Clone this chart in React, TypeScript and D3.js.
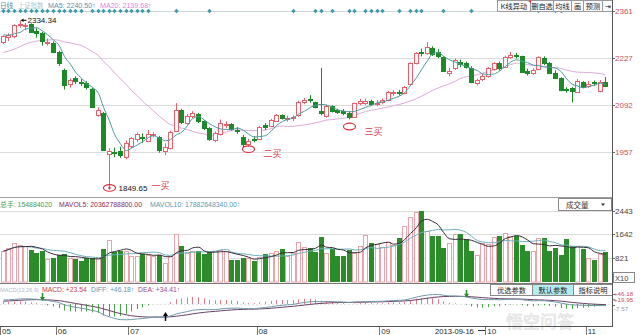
import React from 'react';
import * as d3 from 'd3';

// ---------- data ----------
const priorCloses = [2218, 2200, 2178, 2174, 2205, 2235, 2236, 2247, 2233, 2246, 2241, 2217, 2227, 2243, 2282, 2299, 2302, 2301, 2275];

const opens = [
  2273, 2286, 2290, 2322, 2318, 2323, 2303, 2299, 2271, 2270,
  2244, 2193, 2153, 2168, 2158, 2156, 2138, 2064, 2070, 1951,
  1958, 1960, 1944, 1975, 1994, 2000, 1988, 2008, 2000, 1960,
  1968, 2018, 2078, 2040, 2060, 2066, 2045, 2025, 1990, 2008,
  2034, 2036, 2020, 2001, 1979, 1995, 1995, 2035, 2032, 2047,
  2062, 2052, 2053, 2062, 2100, 2110, 2099, 2074, 2060, 2088,
  2076, 2074, 2069, 2058, 2097, 2098, 2103, 2095, 2099, 2106,
  2126, 2129, 2127, 2153, 2213, 2244, 2241, 2256, 2244, 2229,
  2184, 2199, 2216, 2211, 2199, 2155, 2166, 2174, 2196, 2212,
  2201, 2230, 2236, 2231, 2190, 2182, 2194, 2227, 2213, 2184,
  2168, 2137, 2139, 2130, 2157, 2145, 2157, 2133, 2157];
const highs = [
  2291, 2297, 2323, 2334.34, 2327, 2326, 2312, 2301, 2282, 2274,
  2247, 2196, 2168, 2174, 2166, 2160, 2141, 2085, 2072, 1968,
  1970, 1972, 1990, 2000, 2013, 2010, 2020, 2014, 2003, 1982,
  2018, 2097, 2081, 2066, 2074, 2069, 2048, 2028, 2016, 2050,
  2045, 2040, 2028, 2006, 1995, 2002, 2032, 2040, 2052, 2066,
  2065, 2061, 2062, 2104, 2112, 2120, 2101, 2198, 2093, 2091,
  2081, 2080, 2074, 2098, 2109, 2110, 2107, 2106, 2110, 2132,
  2134, 2135, 2146, 2214, 2243, 2253, 2272, 2260, 2252, 2231,
  2198, 2225, 2222, 2216, 2203, 2167, 2181, 2200, 2214, 2216,
  2233, 2244, 2241, 2233, 2196, 2197, 2231, 2231, 2215, 2191,
  2171, 2143, 2143, 2166, 2160, 2160, 2162, 2163, 2172];
const lows = [
  2266, 2275, 2283, 2313, 2306, 2298, 2285, 2262, 2262, 2240,
  2204, 2136, 2141, 2152, 2146, 2136, 2083, 2058, 1960, 1849.65,
  1942, 1940, 1936, 1968, 1986, 1983, 1985, 1999, 1955, 1948,
  1964, 2014, 2037, 2035, 2054, 2040, 2020, 1989, 1985, 2004,
  2025, 2018, 2009, 1970, 1972, 1985, 1991, 2020, 2028, 2043,
  2050, 2044, 2046, 2058, 2094, 2098, 2082, 2062, 2056, 2070,
  2066, 2062, 2051, 2055, 2091, 2092, 2090, 2088, 2095, 2102,
  2118, 2119, 2122, 2148, 2208, 2231, 2236, 2232, 2226, 2186,
  2174, 2192, 2200, 2196, 2154, 2148, 2160, 2170, 2190, 2190,
  2198, 2224, 2225, 2185, 2176, 2178, 2191, 2206, 2180, 2166,
  2131, 2127, 2099, 2126, 2140, 2141, 2146, 2128, 2143];
const closes = [
  2288, 2293, 2321, 2325, 2320, 2301, 2299, 2274, 2272, 2244,
  2212, 2150, 2163, 2161, 2156, 2143, 2087, 2077, 1964, 1959,
  1953, 1948, 1983, 1996, 2008, 1996, 2009, 2009, 1962, 1970,
  2013, 2078, 2043, 2060, 2068, 2045, 2025, 1993, 2012, 2041,
  2036, 2022, 2017, 1979, 1989, 1993, 2028, 2030, 2050, 2062,
  2053, 2055, 2056, 2100, 2106, 2107, 2086, 2068, 2090, 2074,
  2072, 2068, 2057, 2096, 2103, 2102, 2094, 2098, 2106, 2128,
  2128, 2127, 2142, 2213, 2240, 2242, 2257, 2238, 2233, 2188,
  2190, 2221, 2209, 2201, 2158, 2162, 2176, 2198, 2211, 2198,
  2229, 2235, 2233, 2187, 2182, 2192, 2228, 2213, 2184, 2170,
  2135, 2134, 2131, 2161, 2144, 2153, 2154, 2158, 2146];
const volumes = [
  1060, 1170, 1340, 1290, 1230, 1110, 990, 1050, 800, 840,
  930, 960, 840, 790, 720, 820, 820, 820, 1130, 1430,
  1030, 1050, 1050, 880, 910, 960, 930, 910, 930, 640,
  910, 1640, 1250, 1010, 1050, 1050, 960, 1030, 1050, 1110,
  1070, 770, 770, 830, 830, 730, 850, 970, 1000, 1080,
  1120, 880, 1000, 1370, 1210, 1175, 1040, 1560, 1000, 1140,
  900, 900, 1110, 1000, 1225, 1630, 1350, 1300, 1200, 1370,
  1290, 1500, 1930, 2245, 2400, 2443, 1760, 1580, 1580, 1180,
  1350, 1640, 1640, 1470, 1080, 940, 1350, 1300, 1550, 1580,
  1700, 1580, 1580, 1290, 1080, 1050, 1520, 1500, 1060, 1175,
  920, 1470, 1230, 1230, 1120, 830, 770, 970, 1040];

const diamondIndex = [0, 1, 2, 3, 4, 5, 6, 7, 8, 9, 10, 11, 12, 13, 14,
  16, 17, 18, 19, 20, 21, 22, 23, 24, 25, 26, 31, 37, 52, 56, 57, 59, 62, 63,
  65, 66, 67, 68, 71, 73, 74, 75, 79, 84, 96, 99, 100];

const monthLabels = ['05', '06', '07', '08', '09', '10', '11'];
const monthIndex = [0, 10, 23, 46, 68, 87, 105];
const priceTicks = [2361, 2227, 2092, 1957];
const volumeTicks = [2443, 1642, 821];
const macdTickValues = [46.18, 19.95, -7.57];
const macdTickLabels = ['+46.18', '+19.95', '-7.57'];
const buyIndex = [19, 44, 62];
const buyPrice = [1849.65, 1965, 2030];
const buyLabels = ['一买', '二买', '三买'];
const crossIndex = [7, 29, 83];
const crossDir = ['down', 'up', 'down'];
const highIndex = 3;
const cursorDate = '2013-09-16';

const FONT = "'Liberation Sans', Arial, 'Noto Sans CJK SC', sans-serif";
const UP = '#e8606c';
const DOWN = '#1d8a2a';
const VUP = '#eba3ab';
const VDOWN = '#2a8d2a';
const GRID = '#dcdcdc';

export default function App() {
  const n = closes.length;
  const idx = d3.range(n);
  const x = d3.scaleBand<number>().domain(idx).range([0, 608]).paddingInner(0.28).paddingOuter(0.14);
  const step = x.step();
  const cx = (i: number) => Math.round((x(i) as number) + x.bandwidth() / 2) + 0.5;
  const tickX = (i: number) => (x(i) as number) + x.bandwidth() / 2 - step / 2;
  const yP = d3.scaleLinear().domain([1957, 2361]).range([152, 11]);
  const yV = d3.scaleLinear().domain([0, 2443]).range([282, 211]);
  const yM = d3.scaleLinear().domain([-7.57, 46.18]).range([305.5, 294.5]);

  const all = priorCloses.concat(closes);
  const p = priorCloses.length;
  const ma = (k: number) => idx.map(i => d3.mean(all.slice(p + i - k + 1, p + i + 1)) as number);
  const ma5 = ma(5);
  const ma20 = ma(20);

  let e12 = all[0], e26 = all[0], dea = 0;
  const diffs: number[] = [], deas: number[] = [];
  all.forEach((c, k) => {
    if (k > 0) { e12 = e12 * 11 / 13 + c * 2 / 13; e26 = e26 * 25 / 27 + c * 2 / 27; }
    const dif = e12 - e26;
    dea = k === 0 ? 0 : dea * 0.8 + dif * 0.2;
    if (k >= p) { diffs.push(dif); deas.push(dea); }
  });
  const hist = diffs.map((d, i) => 2 * (d - deas[i]));
  const vma = (k: number) => idx.map(i => d3.mean(volumes.slice(Math.max(0, i - k + 1), i + 1)) as number);
  const vma5 = vma(5);
  const vma10 = vma(10);

  const lineP = d3.line<number>().x((_, i) => cx(i)).y(v => yP(v)).curve(d3.curveMonotoneX);
  const lineV = d3.line<number>().x((_, i) => cx(i)).y(v => yV(v)).curve(d3.curveMonotoneX);
  const lineM = d3.line<number>().x((_, i) => cx(i)).y(v => yM(v)).curve(d3.curveMonotoneX);

  const txt = (props: any, s: string) => <text fontFamily={FONT} {...props}>{s}</text>;

  return (
    <svg width={640} height={335} style={{ position: 'absolute', left: 0, top: 0, background: '#fff' }}>
      <rect x={0} y={0} width={640} height={335} fill="#fff" />
      {/* header */}
      {txt({ x: 0, y: 8, fontSize: 6.6, fill: '#3a8fb0' }, '日线')}
      {txt({ x: 18, y: 8, fontSize: 6.3, fill: '#a6c9d2' }, '上证指数')}
      {txt({ x: 48, y: 8, fontSize: 7.1, fill: '#5b8fb0' }, 'MA5: 2240.50↑')}
      {txt({ x: 100, y: 8, fontSize: 7.1, fill: '#e07fdc' }, 'MA20: 2139.68↑')}

      {/* price grid */}
      {priceTicks.map((t, k) => (
        <g key={t}>
          <line x1={0} x2={612} y1={Math.round(yP(t)) + 0.5} y2={Math.round(yP(t)) + 0.5} stroke={k === 0 ? '#cfd8da' : GRID} />
          <line x1={612} x2={615} y1={Math.round(yP(t)) + 0.5} y2={Math.round(yP(t)) + 0.5} stroke="#666" />
          {txt({ x: 615, y: yP(t) + 3, fontSize: 8, fill: '#c8505a' }, String(t))}
        </g>
      ))}
      {/* diamonds */}
      {diamondIndex.map(i => (
        <path key={'d' + i} d={`M${cx(i)},${yP(2361) - 2.2}l2.2,2.2l-2.2,2.2l-2.2,-2.2z`} fill="#3b9aa8" />
      ))}

      {/* MA lines */}
      <path d={lineP(ma20) || ''} fill="none" stroke="#dcaad8" strokeWidth={1} />

      {/* candles */}
      {idx.map(i => {
        const o = opens[i], c = closes[i];
        const up = c >= o;
        const col = up ? UP : DOWN;
        const top = Math.round(yP(Math.max(o, c))) + 0.5;
        const bot = Math.max(Math.round(yP(Math.min(o, c))) + 0.5, top + 1);
        const xc = cx(i);
        return (
          <g key={'c' + i}>
            <line x1={xc} x2={xc} y1={yP(highs[i])} y2={top} stroke={col} />
            <line x1={xc} x2={xc} y1={bot} y2={yP(lows[i])} stroke={col} />
            <rect x={xc - 2} y={top} width={4} height={bot - top} fill={up ? '#fff' : col} stroke={col} />
          </g>
        );
      })}
      <path d={lineP(ma5) || ''} fill="none" stroke="#4e9a9c" strokeWidth={1} />

      {/* high marker */}
      <g>
        <line x1={cx(highIndex) + 1} x2={cx(highIndex) + 6} y1={yP(highs[highIndex])} y2={yP(highs[highIndex])} stroke="#000" />
        <path d={`M${cx(highIndex) + 0.5},${yP(highs[highIndex])}l2.5,-1.8v3.6z`} fill="#000" />
        {txt({ x: cx(highIndex) + 7, y: yP(highs[highIndex]) + 3, fontSize: 8, fill: '#111' }, '2334.34')}
      </g>

      {/* buy annotations */}
      {buyIndex.map((bi, k) => {
        const ex = cx(bi);
        const ey = yP(buyPrice[k]) + (k === 0 ? -1.5 : 0);
        return (
          <g key={'b' + k}>
            <ellipse cx={ex} cy={ey} rx={6} ry={3.3} fill="none" stroke="#d8303c" strokeWidth={1.2} />
            {k === 0 && <circle cx={ex} cy={ey} r={1.2} fill="#d8303c" />}
            {k === 0 && txt({ x: ex + 9, y: ey + 3.5, fontSize: 8, fill: '#111' }, '1849.65')}
            {txt({ x: k === 0 ? ex + 42 : ex + 15, y: k === 0 ? ey + 1 : ey + 8, fontSize: 9, fill: '#d8404a' }, buyLabels[k])}
          </g>
        );
      })}

      {/* top buttons */}
      {[['K线异动', 497, 530], ['删自选', 530, 553], ['均线', 553, 571], ['画', 571, 583], ['预测', 583, 602], ['⇥', 602, 612]].map(([s, a, b]) => (
        <g key={s as string}>
          <rect x={(a as number) + 0.5} y={0.5} width={(b as number) - (a as number)} height={11} fill="#fbfbfb" stroke="#9a9a9a" />
          {txt({ x: ((a as number) + (b as number)) / 2 + 0.5, y: 9, fontSize: 7.2, fill: '#222', textAnchor: 'middle' }, s as string)}
        </g>
      ))}
      <path d="M528,0.5l3,0l0,3z" fill="#e03030" />

      {/* volume panel */}
      <line x1={0} x2={612} y1={197.5} y2={197.5} stroke="#a0a0a0" />
      {txt({ x: 0, y: 207, fontSize: 6.9, fill: '#4e9a4e' }, '总手: 154884020')}
      {txt({ x: 59, y: 207, fontSize: 6.9, fill: '#8c2a55' }, 'MAVOL5: 20362788800.00')}
      {txt({ x: 150, y: 207, fontSize: 6.9, fill: '#5a9ab0' }, 'MAVOL10: 17882648340.00↑')}
      <rect x={558.5} y={198.5} width={53} height={12} fill="#fff" stroke="#888" />
      {txt({ x: 566, y: 207.5, fontSize: 7.5, fill: '#333' }, '成交量')}
      <path d="M601,203.5h4l-2,2.5z" fill="#333" />
      {volumeTicks.map(t => (
        <g key={'v' + t}>
          <line x1={0} x2={612} y1={Math.round(yV(t)) + 0.5} y2={Math.round(yV(t)) + 0.5} stroke={GRID} />
          <line x1={612} x2={615} y1={Math.round(yV(t)) + 0.5} y2={Math.round(yV(t)) + 0.5} stroke="#666" />
          {txt({ x: 615, y: yV(t) + 3, fontSize: 8, fill: '#444' }, String(t))}
        </g>
      ))}
      <rect x={613.5} y={272.5} width={21} height={10} fill="#fff" stroke="#888" />
      {txt({ x: 615, y: 280.5, fontSize: 7.5, fill: '#444' }, 'X10')}
      {idx.map(i => {
        const up = closes[i] >= opens[i];
        const top = Math.round(yV(volumes[i])) + 0.5;
        const xc = cx(i);
        return up
          ? <rect key={'v' + i} x={xc - 2} y={top} width={4} height={282 - top} fill="#fff" stroke={VUP} />
          : <rect key={'v' + i} x={xc - 2.5} y={top - 0.5} width={5} height={282.5 - top} fill={VDOWN} />;
      })}
      <path d={lineV(vma10) || ''} fill="none" stroke="#6cb0bc" strokeWidth={1} />
      <path d={lineV(vma5) || ''} fill="none" stroke="#3a2a35" strokeWidth={1} />
      <line x1={0} x2={612} y1={283.5} y2={283.5} stroke="#777" />

      {/* MACD panel */}
      {txt({ x: 0, y: 292, fontSize: 5.6, fill: '#b0b8c8' }, 'MACD(12,26,9)')}
      {txt({ x: 42, y: 292, fontSize: 6.8, fill: '#c8404c' }, 'MACD: +23.54')}
      {txt({ x: 91, y: 292, fontSize: 6.8, fill: '#5a9ab0' }, 'DIFF: +46.18↑')}
      {txt({ x: 138, y: 292, fontSize: 6.8, fill: '#9a4a8a' }, 'DEA: +34.41↑')}
      <line x1={0} x2={612} y1={Math.round(yM(0)) + 0.5} y2={Math.round(yM(0)) + 0.5} stroke="#e4e4e4" strokeDasharray="2,2" />
      {idx.map(i => {
        const v = hist[i];
        return <line key={'h' + i} x1={cx(i)} x2={cx(i)} y1={yM(0)} y2={yM(v)} stroke={v >= 0 ? '#e27a88' : '#4aa64a'} />;
      })}
      <path d={lineM(deas) || ''} fill="none" stroke="#6a3d66" strokeWidth={1} />
      <path d={lineM(diffs) || ''} fill="none" stroke="#6f9aa8" strokeWidth={1} />
      {crossIndex.map((ci, k) => {
        const xc = cx(ci);
        const yy = yM(diffs[ci]);
        const down = crossDir[k] === 'down';
        const col = down ? '#2a8a2a' : '#000';
        return down ? (
          <g key={'a' + k}>
            <line x1={xc} x2={xc} y1={yy - 7} y2={yy - 1} stroke={col} strokeWidth={1.5} />
            <path d={`M${xc - 2.5},${yy - 3}h5l-2.5,4z`} fill={col} />
          </g>
        ) : (
          <g key={'a' + k}>
            <line x1={xc} x2={xc} y1={yy - 3} y2={yy + 4} stroke={col} strokeWidth={1.5} />
            <path d={`M${xc - 2.5},${yy - 1}h5l-2.5,-4z`} fill={col} />
          </g>
        );
      })}
      {[['优选参数', 490, 532, '#fff'], ['默认参数', 532, 573, '#b4ecf0'], ['指标说明', 573, 612, '#fff']].map(([s, a, b, f]) => (
        <g key={s as string}>
          <rect x={(a as number) + 0.5} y={284.5} width={(b as number) - (a as number)} height={11} fill={f as string} stroke="#888" />
          {txt({ x: ((a as number) + (b as number)) / 2 + 0.5, y: 293, fontSize: 7.2, fill: '#222', textAnchor: 'middle' }, s as string)}
        </g>
      ))}

      {/* watermark */}
      <text x={506} y={328} fontFamily={FONT} fontSize={17} fill="#f4f4f4" stroke="#d8d8d8" strokeWidth={0.6} opacity={0.85}>悟空问答</text>

      {macdTickValues.map((t, k) => (
        <g key={'m' + k}>
          <line x1={612} x2={615} y1={yM(t)} y2={yM(t)} stroke="#666" />
          {txt({ x: 614, y: yM(t) + (k === 2 ? 5 : 2.4) + (k === 0 ? -0.6 : 0), fontSize: 6.2, fill: k < 2 ? '#d04a5a' : '#999' }, macdTickLabels[k])}
        </g>
      ))}

      {/* x axis */}
      <line x1={0} x2={612} y1={326.5} y2={326.5} stroke="#555" />
      {monthIndex.map((mi, k) => (
        <g key={'t' + k}>
          <line x1={Math.round(tickX(mi)) + 0.5} x2={Math.round(tickX(mi)) + 0.5} y1={327} y2={335} stroke="#777" />
          {txt({ x: tickX(mi) + 2, y: 334, fontSize: 8, fill: '#333' }, monthLabels[k])}
        </g>
      ))}
      {txt({ x: 435, y: 334, fontSize: 7.6, fill: '#222' }, cursorDate)}
      <line x1={478} x2={485} y1={330.5} y2={330.5} stroke="#333" />

      {/* right border */}
      <line x1={612.5} x2={612.5} y1={0} y2={327} stroke="#555" />
    </svg>
  );
}
